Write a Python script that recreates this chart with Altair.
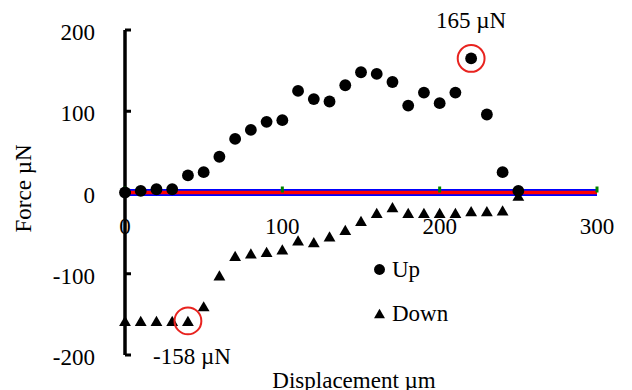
import altair as alt
import pandas as pd

# ---- data ----
displacement = [0, 10, 20, 30, 40, 50, 60, 70, 80, 90, 100, 110, 120, 130, 140,
                150, 160, 170, 180, 190, 200, 210, 220, 230, 240, 250]
force_up = [0, 2, 4, 4, 21, 25, 44, 66, 77, 87, 89, 125, 115, 112, 132,
            148, 146, 136, 107, 123, 110, 123, 165, 96, 25, 2]
force_down = [-158, -158, -158, -158, -158, -140, -102, -78, -75, -73, -70, -59, -61, -54, -46,
              -35, -25, -18, -25, -25, -25, -25, -23, -23, -22, -4]
series_names = ["Up", "Down"]
x_ticks = [0, 100, 200, 300]
x_tick_labels = ["0", "100", "200", "300"]
y_ticks = [-200, -100, 0, 100, 200]
y_tick_labels = ["-200", "-100", "0", "100", "200"]
x_title = "Displacement µm"
y_title = "Force µN"

peak_x = [220, 40]
peak_y = [165, -158]
peak_labels = ["165 µN", "-158 µN"]

FONT = "Liberation Serif"
FS = 23

rows = []
for xv, u in zip(displacement, force_up):
    rows.append({"x": xv, "force": u, "series": "Up"})
for xv, d in zip(displacement, force_down):
    rows.append({"x": xv, "force": d, "series": "Down"})
df = pd.DataFrame(rows)
peaks = pd.DataFrame({"x": peak_x, "force": peak_y, "label": peak_labels})

xscale = alt.Scale(domain=[min(x_ticks), max(x_ticks)], nice=False, zero=False)
yscale = alt.Scale(domain=[min(y_ticks), max(y_ticks)], nice=False, zero=False)


def X(field):
    return alt.X(field, scale=xscale, axis=None)


def Y(field):
    return alt.Y(field, scale=yscale, axis=None)


xline_df = pd.DataFrame({"x": [min(x_ticks), max(x_ticks)], "force": [0, 0]})
yline_df = pd.DataFrame({"x": [0, 0], "force": [min(y_ticks), max(y_ticks)]})
xtick_df = pd.DataFrame({"x": x_ticks, "force": [0] * len(x_ticks), "label": x_tick_labels})
ytick_df = pd.DataFrame({"force": y_ticks, "x": [0] * len(y_ticks), "label": y_tick_labels})
xtitle_df = pd.DataFrame({"x": [(min(x_ticks) + max(x_ticks)) / 2], "force": [min(y_ticks)],
                          "label": [x_title]})
ytitle_df = pd.DataFrame({"x": [0], "force": [0], "label": [y_title]})

# second way of drawing the x axis line (datum encodings), drawn underneath
xline_rule = alt.Chart(xline_df).mark_rule(color="blue", strokeWidth=7).encode(
    x=alt.datum(min(x_ticks), scale=xscale, axis=None, type="quantitative"),
    x2=alt.datum(max(x_ticks)),
    y=alt.datum(0, scale=yscale, axis=None, type="quantitative"),
)
xline = alt.Chart(xline_df).mark_line(color="red", strokeWidth=3.5).encode(
    x=X("x:Q"), y=Y("force:Q"),
)
yline = alt.Chart(yline_df).mark_line(color="black", strokeWidth=3.5).encode(
    x=X("x:Q"), y=Y("force:Q"), order=alt.Order("force:Q"),
)
xticks_m = alt.Chart(xtick_df).mark_point(shape="M0,0V-1", size=144, filled=False,
                                          stroke="green", strokeWidth=3, opacity=1).encode(
    x=X("x:Q"), y=Y("force:Q"),
)
yticks_m = alt.Chart(ytick_df).mark_point(shape="M0,0H1", size=144, filled=False,
                                          stroke="black", strokeWidth=3, opacity=1).encode(
    x=X("x:Q"), y=Y("force:Q"),
)

xlabels = alt.Chart(xtick_df).mark_text(font=FONT, fontSize=FS, color="black",
                                        align="center", baseline="middle", dy=34).encode(
    x=X("x:Q"), y=Y("force:Q"), text="label:N",
)
ylabels = alt.Chart(ytick_df).mark_text(font=FONT, fontSize=FS, color="black",
                                        align="right", baseline="middle", dx=-30, dy=3).encode(
    x=X("x:Q"), y=Y("force:Q"), text="label:N",
)
xtitle = alt.Chart(xtitle_df).mark_text(font=FONT, fontSize=FS, color="black",
                                        align="center", baseline="middle", dx=-7, dy=26).encode(
    x=X("x:Q"), y=Y("force:Q"), text="label:N",
)
ytitle = alt.Chart(ytitle_df).mark_text(font=FONT, fontSize=FS, color="black", angle=270,
                                        align="center", baseline="middle", dx=4, dy=-101).encode(
    x=X("x:Q"), y=Y("force:Q"), text="label:N",
)

points = alt.Chart(df).mark_point(filled=True, opacity=1, size=140, color="black").encode(
    x=X("x:Q"),
    y=Y("force:Q"),
    shape=alt.Shape("series:N",
                    scale=alt.Scale(domain=series_names, range=["circle", "triangle-up"]),
                    legend=alt.Legend(title=None, orient="none", legendX=243, legendY=228,
                                      padding=0, rowPadding=20, symbolSize=120,
                                      symbolFillColor="black", symbolStrokeColor="black",
                                      symbolStrokeWidth=0, labelFont=FONT,
                                      labelFontSize=FS, labelColor="black",
                                      labelOffset=1)),
)

rings = alt.Chart(peaks).mark_point(shape="circle", filled=False, size=720,
                                     stroke="#e8231f", strokeWidth=2, opacity=1).encode(
    x=X("x:Q"), y=Y("force:Q"),
)

label_top = alt.Chart(peaks).transform_filter(alt.datum.force > 0).mark_text(
    font=FONT, fontSize=FS, color="black", dy=-37).encode(
    x=X("x:Q"), y=Y("force:Q"), text="label:N",
)

label_bottom = alt.Chart(peaks).transform_filter(alt.datum.force < 0).mark_text(
    font=FONT, fontSize=FS, color="black", dx=4, dy=36).encode(
    x=X("x:Q"), y=Y("force:Q"), text="label:N",
)

chart = alt.layer(xlabels, ylabels, xtitle, ytitle, xline_rule, xline, yline, xticks_m, yticks_m,
                  points, rings, label_top, label_bottom).properties(
    width=472, height=325,
    background="white",
    autosize=alt.AutoSizeParams(type="none"),
    padding={"left": 117, "top": 22, "right": 27, "bottom": 40},
).configure_view(strokeWidth=0)

chart.save("out.html", embed_options={"renderer": "svg", "actions": False})
